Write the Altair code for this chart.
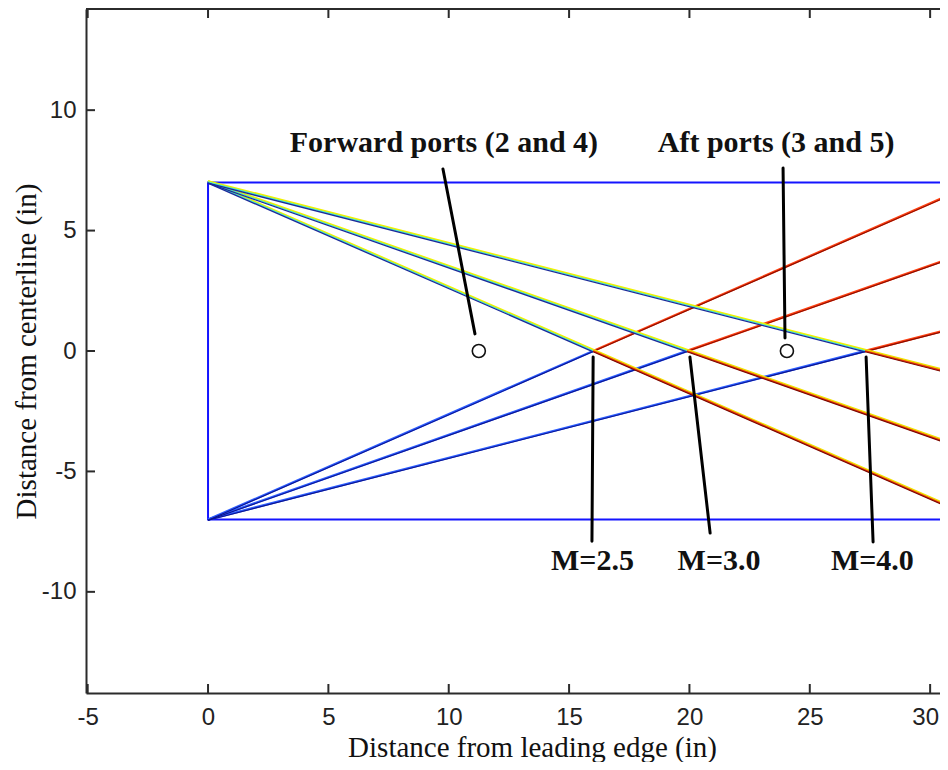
import altair as alt
import pandas as pd

# ---------------- data ----------------
mach_labels = ["M=2.5", "M=3.0", "M=4.0"]
# x position (in) where the wave from the upper corner meets the wave from the lower corner on the centerline
crossing_x = [16.0, 19.9, 27.3]
wall_top = 7.0
wall_bottom = -7.0
leading_edge = 0.0
far_x = 40.0   # rectangle continues past the right edge

port_x = [11.25, 24.05]
port_y = [0.0, 0.0]
port_names = ["Forward ports (2 and 4)", "Aft ports (3 and 5)"]
port_label_x = [9.8, 23.6]
port_label_y = [8.25, 8.25]
port_lead_x = [9.76, 23.89]
port_lead_y = [7.56, 7.6]
port_lead_x2 = [11.09, 23.97]
port_lead_y2 = [0.71, 0.54]

mach_label_x = [15.97, 21.23, 27.6]
mach_label_y = [-9.1, -9.1, -9.1]
mach_lead_x = [16.0, 20.02, 27.34]
mach_lead_y = [-0.25, -0.25, -0.25]
mach_lead_x2 = [15.95, 20.86, 27.63]
mach_lead_y2 = [-7.9, -7.56, -7.93]

x_ticks = [-5, 0, 5, 10, 15, 20, 25, 30]
y_ticks = [-10, -5, 0, 5, 10]

X_DOMAIN = [-5.07, 30.41]
Y_DOMAIN = [-14.2, 14.2]
W, H = 854, 684

# ---------------- tables ----------------
rows = []
for m, xc in zip(mach_labels, crossing_x):
    # wave from the upper corner (falling)
    rows += [dict(mach=m, fam="fall", part="before", x=leading_edge, y=wall_top, o=0),
             dict(mach=m, fam="fall", part="before", x=xc, y=0.0, o=1),
             dict(mach=m, fam="fall", part="after", x=xc, y=0.0, o=0),
             dict(mach=m, fam="fall", part="after", x=2 * xc, y=wall_bottom, o=1)]
    # wave from the lower corner (rising)
    rows += [dict(mach=m, fam="rise", part="before", x=leading_edge, y=wall_bottom, o=0),
             dict(mach=m, fam="rise", part="before", x=xc, y=0.0, o=1),
             dict(mach=m, fam="rise", part="after", x=xc, y=0.0, o=0),
             dict(mach=m, fam="rise", part="after", x=2 * xc, y=wall_top, o=1)]
waves = pd.DataFrame(rows)

rect_df = pd.DataFrame({"x": [leading_edge], "x2": [far_x], "y": [wall_bottom], "y2": [wall_top]})
ports_df = pd.DataFrame({"x": port_x, "y": port_y})
port_lab_df = pd.DataFrame({"x": port_label_x, "y": port_label_y, "t": port_names})
port_lead_df = pd.DataFrame({"x": port_lead_x, "y": port_lead_y, "x2": port_lead_x2, "y2": port_lead_y2})
mach_lab_df = pd.DataFrame({"x": mach_label_x, "y": mach_label_y, "t": mach_labels})
mach_lead_df = pd.DataFrame({"x": mach_lead_x, "y": mach_lead_y, "x2": mach_lead_x2, "y2": mach_lead_y2})
xt_df = pd.DataFrame({"x": x_ticks})
yt_df = pd.DataFrame({"y": y_ticks})

xs = alt.Scale(domain=X_DOMAIN, nice=False, zero=False)
ys = alt.Scale(domain=Y_DOMAIN, nice=False, zero=False)

AXIS_COLOR = "#2b2b2b"

x_axis = alt.Axis(values=x_ticks, grid=False, ticks=False, labelPadding=12,
                  labelFont="Liberation Sans", labelFontSize=24, labelColor="#222222",
                  labelExpr="'' + datum.value", labelFlush=False, labelOverlap=False,
                  labelOffset={"condition": {"test": "datum.value == 30", "value": -5}, "value": 0},
                  domainColor=AXIS_COLOR, domainWidth=2,
                  title="Distance from leading edge (in)", titleFont="Liberation Serif",
                  titleFontSize=29, titleFontWeight="normal", titleColor="#111111",
                  titleX=446, titleY=63, titleBaseline="alphabetic", titleAlign="center")
y_axis = alt.Axis(values=y_ticks, grid=False, ticks=False, labelPadding=10,
                  labelFont="Liberation Sans", labelFontSize=24, labelColor="#222222",
                  labelExpr="'' + datum.value", labelFlush=False, labelOverlap=False,
                  domainColor=AXIS_COLOR, domainWidth=2,
                  title="Distance from centerline (in)", titleFont="Liberation Serif",
                  titleFontSize=29, titleFontWeight="normal", titleColor="#111111",
                  titleX=-51, titleY=342, titleBaseline="alphabetic", titleAlign="center",
                  titleAngle=270)

def X(f):
    return alt.X(f, scale=xs, axis=x_axis)

def Y(f):
    return alt.Y(f, scale=ys, axis=y_axis)

rect = alt.Chart(rect_df).mark_rect(fillOpacity=0, stroke="#1414ff", strokeWidth=2, clip=True).encode(
    x=X("x:Q"), x2="x2:Q", y=Y("y:Q"), y2="y2:Q")

def wave_layer(fam, part, color, width, yoff):
    return alt.Chart(waves).transform_filter(
        (alt.datum.fam == fam) & (alt.datum.part == part)
    ).mark_line(color=color, strokeWidth=width, yOffset=yoff, clip=True).encode(
        x=X("x:Q"), y=Y("y:Q"), detail="mach:N", order="o:Q")

wave_layers = [
    wave_layer("rise", "before", "#2a5cff", 2.4, 0),
    wave_layer("rise", "before", "#0c1490", 1.1, 0.6),
    wave_layer("rise", "after", "#ff4010", 2.4, 0),
    wave_layer("rise", "after", "#8a0c00", 1.1, 0.6),
    wave_layer("fall", "before", "#f0f000", 2.2, -1.2),
    wave_layer("fall", "before", "#40e8d8", 1.3, -0.2),
    wave_layer("fall", "before", "#1c2a9a", 1.3, 0.8),
    wave_layer("fall", "after", "#f0e000", 2.2, -1.2),
    wave_layer("fall", "after", "#e83010", 1.7, 0),
    wave_layer("fall", "after", "#7a0a00", 1.1, 0.8),
]

ports = alt.Chart(ports_df).mark_point(shape="circle", size=170, filled=True, fill="white",
                                        stroke="#111111", strokeWidth=1.6, opacity=1).encode(
    x=X("x:Q"), y=Y("y:Q"))

leaders = alt.Chart(pd.concat([port_lead_df, mach_lead_df])).mark_rule(
    color="#000000", strokeWidth=3, strokeCap="round").encode(
    x=X("x:Q"), y=Y("y:Q"), x2="x2:Q", y2="y2:Q")

labels = alt.Chart(pd.concat([port_lab_df, mach_lab_df])).mark_text(
    font="Liberation Serif", fontWeight="bold", fontSize=30, color="#111111",
    align="center", baseline="alphabetic").encode(
    x=X("x:Q"), y=Y("y:Q"), text="t:N")

tick_style = dict(color=AXIS_COLOR, strokeWidth=2)
bottom_ticks = alt.Chart(xt_df).mark_rule(**tick_style).encode(
    x=X("x:Q"), y=alt.value(H), y2=alt.value(H - 9))
top_ticks = alt.Chart(xt_df).mark_rule(**tick_style).encode(
    x=X("x:Q"), y=alt.value(0), y2=alt.value(9))
left_ticks = alt.Chart(yt_df).mark_rule(**tick_style).encode(
    y=Y("y:Q"), x=alt.value(0), x2=alt.value(9))
top_border = alt.Chart(xt_df.head(1)).mark_rule(**tick_style).encode(
    x=alt.value(0), x2=alt.value(W), y=alt.value(0))

chart = alt.layer(
    rect, *wave_layers, leaders, ports, labels,
    bottom_ticks, top_ticks, left_ticks, top_border
).properties(
    width=W, height=H,
    autosize=alt.AutoSizeParams(type="none"),
    padding={"left": 78, "top": 1, "right": 0, "bottom": 69},
    background="white",
).configure_view(strokeWidth=0)

chart.save("out.html", embed_options={"renderer": "svg", "actions": False})
